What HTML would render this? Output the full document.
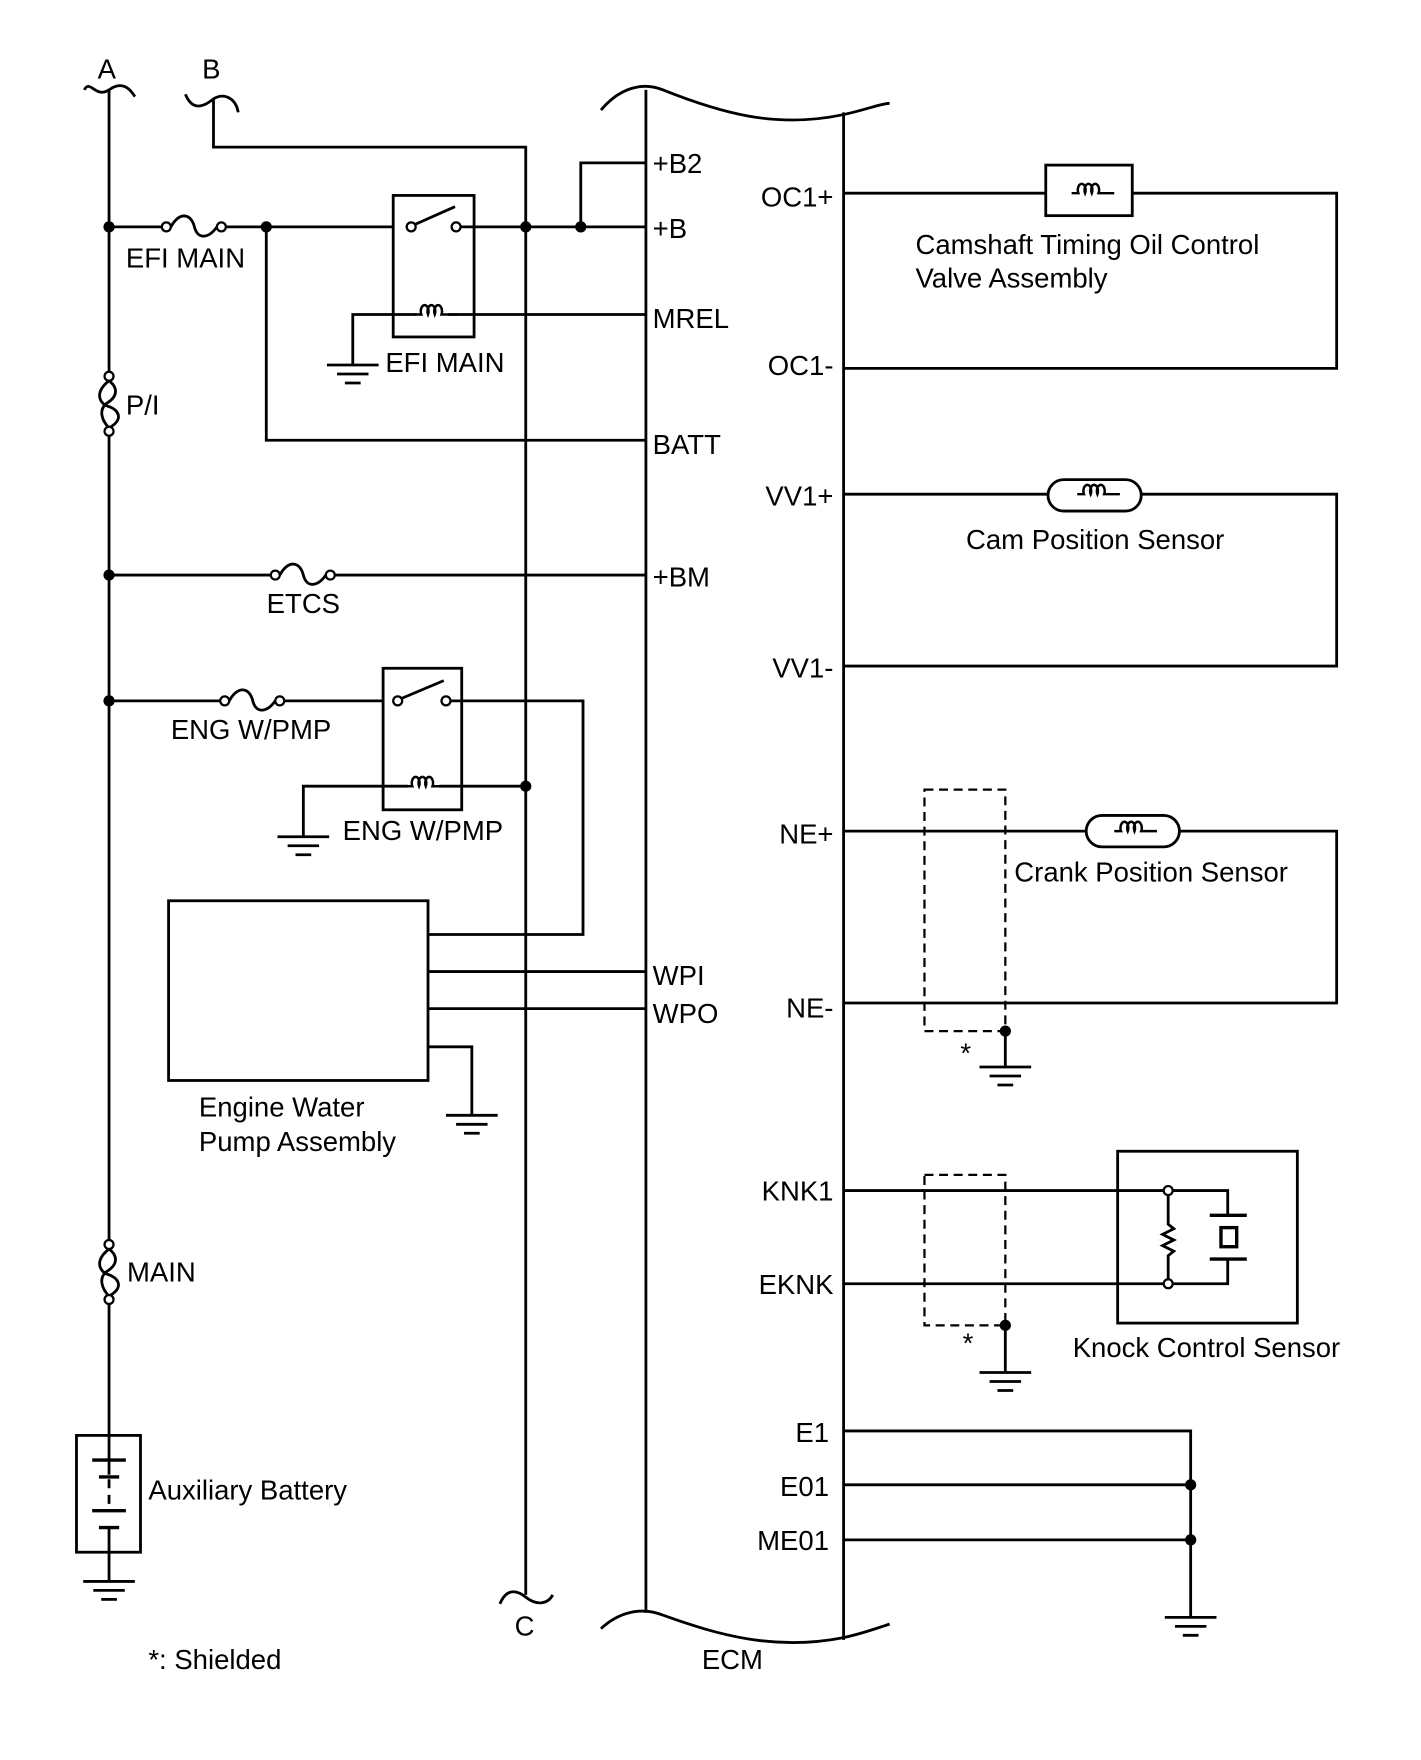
<!DOCTYPE html>
<html><head><meta charset="utf-8"><style>
html,body{margin:0;padding:0;background:#fff}
svg{display:block}
text{font-family:"Liberation Sans",sans-serif;font-size:24.5px;fill:#000}
</style></head><body>
<svg width="1421" height="1760" viewBox="0 0 1265 1567" xmlns="http://www.w3.org/2000/svg">
<defs>
<g id="fuse"><circle cx="0" cy="0" r="4" fill="#fff" stroke="#000" stroke-width="2"/><path d="M4,0 C12,-14 22,-12 25,0 C28,12 38,10 45,0" fill="none" stroke="#000" stroke-width="2.5"/><circle cx="49" cy="0" r="4" fill="#fff" stroke="#000" stroke-width="2"/></g>
<g id="coil"><rect x="-14" y="-10" width="28" height="14" fill="#fff"/><path d="M-16,0 h6 a3.5,5.5 0 1 1 6,0 a3.5,5.5 0 1 1 6,0 a3.5,5.5 0 1 1 6,0 h14" fill="none" stroke="#000" stroke-width="2.2"/></g>
<g id="gnd" stroke="#000" stroke-width="2.5"><line x1="-23" y1="0" x2="23" y2="0"/><line x1="-14" y1="8" x2="14" y2="8"/><line x1="-7" y1="16" x2="7" y2="16"/></g>
<g id="flink"><circle cx="0" cy="0" r="4" fill="#fff" stroke="#000" stroke-width="2"/><path d="M0,4 C-14,15 -8,25 0,27 C8,30 14,38 0,46 M0,4 C8,10 8,18 -2,24 C-10,30 -6,40 0,46" fill="none" stroke="#000" stroke-width="2.5"/><circle cx="0" cy="49" r="4" fill="#fff" stroke="#000" stroke-width="2"/></g>
</defs>
<g fill="none" stroke="#000" stroke-width="2.5">
<path d="M75,80 C80,70 85,88 97,80 C108,72 115,78 120,86"/>
<line x1="97" y1="80" x2="97" y2="335"/>
<line x1="97" y1="384" x2="97" y2="1108"/>
<line x1="97" y1="1157" x2="97" y2="1300"/>
<path d="M165,84 C170,96 178,98 190,88 C200,82 210,88 212,100"/>
<polyline points="190,88 190,131 468,131 468,1420"/>
<path d="M445,1428 C450,1416 458,1414 468,1422 C478,1430 488,1428 492,1420"/>
<line x1="575" y1="80" x2="575" y2="1436"/>
<line x1="751" y1="100" x2="751" y2="1460"/>
<path d="M535,98 C550,80 570,72 590,80 C640,100 690,115 751,102 C770,98 785,92 792,92"/>
<path d="M535,1450 C550,1436 570,1430 590,1438 C640,1456 690,1470 751,1458 C770,1454 785,1448 792,1446"/>
<line x1="97" y1="202" x2="148" y2="202"/>
<line x1="201" y1="202" x2="350" y2="202"/>
<line x1="410" y1="202" x2="575" y2="202"/>
<rect x="350" y="174" width="72" height="126"/>
<line x1="369" y1="200" x2="405" y2="184"/>
<polyline points="517,202 517,145 575,145"/>
<polyline points="314,325 314,280 575,280"/>
<polyline points="237,202 237,392 575,392"/>
<line x1="97" y1="512" x2="245" y2="512"/>
<line x1="298" y1="512" x2="575" y2="512"/>
<line x1="97" y1="624" x2="200" y2="624"/>
<line x1="253" y1="624" x2="341" y2="624"/>
<rect x="341" y="595" width="70" height="126"/>
<line x1="357" y1="622" x2="395" y2="606"/>
<polyline points="400,624 519,624 519,832 382,832"/>
<polyline points="270,745 270,700 468,700"/>
<rect x="150" y="802" width="231" height="160"/>
<line x1="381" y1="865" x2="575" y2="865"/>
<line x1="381" y1="898" x2="575" y2="898"/>
<polyline points="381,932 420,932 420,993"/>
<rect x="68" y="1278" width="57" height="104"/>
<line x1="97" y1="1300" x2="97" y2="1313"/>
<line x1="97" y1="1317" x2="97" y2="1345" stroke-dasharray="8,6"/>
<line x1="97" y1="1361" x2="97" y2="1408"/>
<line x1="82" y1="1300" x2="112" y2="1300" stroke-width="3"/>
<line x1="88" y1="1315" x2="106" y2="1315" stroke-width="3"/>
<line x1="82" y1="1345" x2="112" y2="1345" stroke-width="3"/>
<line x1="88" y1="1360" x2="106" y2="1360" stroke-width="3"/>
<polyline points="751,172 1190,172 1190,328 751,328"/>
<rect x="931" y="147" width="77" height="45" fill="#fff"/>
<polyline points="751,440 1190,440 1190,593 751,593"/>
<rect x="933" y="427" width="83" height="28" rx="14" fill="#fff"/>
<polyline points="751,740 1190,740 1190,893 751,893"/>
<rect x="967" y="726" width="83" height="28" rx="14" fill="#fff"/>
<rect x="823" y="703" width="72" height="215" stroke-dasharray="8,5" stroke-width="2"/>
<line x1="895" y1="918" x2="895" y2="950"/>
<line x1="751" y1="1060" x2="1036" y2="1060"/>
<line x1="751" y1="1143" x2="1036" y2="1143"/>
<rect x="995" y="1025" width="160" height="153"/>
<polyline points="1040,1064 1040,1090 1045,1094 1035,1099 1045,1104 1035,1109 1045,1114 1040,1118 1040,1139"/>
<polyline points="1044,1060 1093,1060 1093,1082"/>
<polyline points="1044,1143 1093,1143 1093,1121"/>
<line x1="1077" y1="1082" x2="1110" y2="1082" stroke-width="3"/>
<line x1="1077" y1="1121" x2="1110" y2="1121" stroke-width="3"/>
<rect x="1087" y="1093" width="14" height="17" stroke-width="3"/>
<rect x="823" y="1046" width="72" height="134" stroke-dasharray="8,5" stroke-width="2"/>
<line x1="895" y1="1180" x2="895" y2="1222"/>
<polyline points="751,1274 1060,1274 1060,1440"/>
<line x1="751" y1="1322" x2="1060" y2="1322"/>
<line x1="751" y1="1371" x2="1060" y2="1371"/>
</g>
<use href="#fuse" x="148" y="202"/>
<use href="#fuse" x="245" y="512"/>
<use href="#fuse" x="200" y="624"/>
<use href="#flink" x="97" y="335"/>
<use href="#flink" x="97" y="1108"/>
<circle cx="366" cy="202" r="4" fill="#fff" stroke="#000" stroke-width="2"/>
<circle cx="406" cy="202" r="4" fill="#fff" stroke="#000" stroke-width="2"/>
<circle cx="354" cy="624" r="4" fill="#fff" stroke="#000" stroke-width="2"/>
<circle cx="397" cy="624" r="4" fill="#fff" stroke="#000" stroke-width="2"/>
<circle cx="1040" cy="1060" r="4" fill="#fff" stroke="#000" stroke-width="2"/>
<circle cx="1040" cy="1143" r="4" fill="#fff" stroke="#000" stroke-width="2"/>
<use href="#coil" x="385" y="280"/>
<use href="#coil" x="377" y="700"/>
<use href="#coil" x="970" y="172"/>
<use href="#coil" x="975" y="440"/>
<use href="#coil" x="1008" y="740"/>
<use href="#gnd" x="314" y="325"/>
<use href="#gnd" x="270" y="745"/>
<use href="#gnd" x="420" y="993"/>
<use href="#gnd" x="97" y="1408"/>
<use href="#gnd" x="895" y="950"/>
<use href="#gnd" x="895" y="1222"/>
<use href="#gnd" x="1060" y="1440"/>
<g fill="#000">
<circle cx="97" cy="202" r="5"/><circle cx="237" cy="202" r="5"/><circle cx="468" cy="202" r="5"/><circle cx="517" cy="202" r="5"/>
<circle cx="97" cy="512" r="5"/><circle cx="97" cy="624" r="5"/><circle cx="468" cy="700" r="5"/>
<circle cx="895" cy="918" r="5"/><circle cx="895" cy="1180" r="5"/>
<circle cx="1060" cy="1322" r="5"/><circle cx="1060" cy="1371" r="5"/>
</g>
<text x="95" y="70" text-anchor="middle">A</text>
<text x="188" y="70" text-anchor="middle">B</text>
<text x="467" y="1456" text-anchor="middle">C</text>
<text x="112" y="238">EFI MAIN</text>
<text x="343" y="331">EFI MAIN</text>
<text x="112" y="369">P/I</text>
<text x="270" y="546" text-anchor="middle">ETCS</text>
<text x="152" y="658">ENG W/PMP</text>
<text x="305" y="748">ENG W/PMP</text>
<text x="177" y="994">Engine Water</text>
<text x="177" y="1025">Pump Assembly</text>
<text x="113" y="1141">MAIN</text>
<text x="132" y="1335">Auxiliary Battery</text>
<text x="132" y="1486">*: Shielded</text>
<text x="652" y="1486" text-anchor="middle">ECM</text>
<text x="581" y="154">+B2</text>
<text x="581" y="212">+B</text>
<text x="581" y="292">MREL</text>
<text x="581" y="404">BATT</text>
<text x="581" y="522">+BM</text>
<text x="581" y="877">WPI</text>
<text x="581" y="911">WPO</text>
<g text-anchor="end">
<text x="742" y="184">OC1+</text>
<text x="742" y="334">OC1-</text>
<text x="742" y="450">VV1+</text>
<text x="742" y="603">VV1-</text>
<text x="742" y="751">NE+</text>
<text x="742" y="906">NE-</text>
<text x="742" y="1069">KNK1</text>
<text x="742" y="1152">EKNK</text>
<text x="738" y="1284">E1</text>
<text x="738" y="1332">E01</text>
<text x="738" y="1380">ME01</text>
</g>
<text x="815" y="226">Camshaft Timing Oil Control</text>
<text x="815" y="256">Valve Assembly</text>
<text x="975" y="489" text-anchor="middle">Cam Position Sensor</text>
<text x="903" y="785">Crank Position Sensor</text>
<text x="955" y="1208">Knock Control Sensor</text>
<text x="855" y="946" font-size="16">*</text>
<text x="857" y="1204" font-size="16">*</text>
</svg>
</body></html>
